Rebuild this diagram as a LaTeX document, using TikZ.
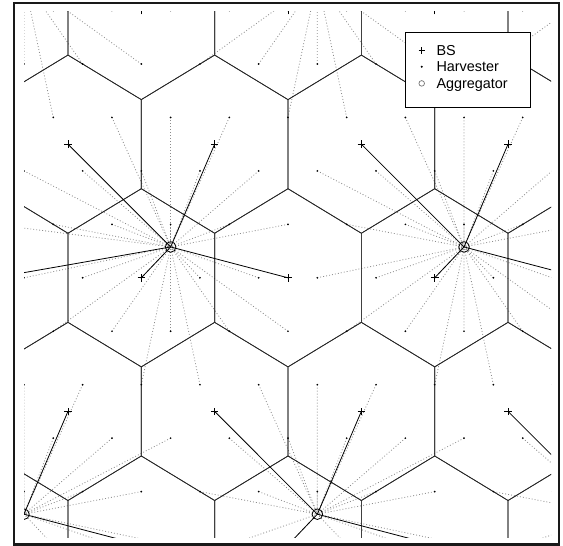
\documentclass[tikz,border=0pt]{standalone}
\usepackage{fontspec}
\setmainfont{Liberation Sans}
\def\agglist{2/2.2/0.2,3/-0.8/-1.5321,4/1.2/-1.5321,5/3.2/-1.5321,1/0.2/0.2,6/-0.8/1.9321,7/1.2/1.9321,8/3.2/1.9321}
\newcommand\nearestagg[2]{%
  \xdef\mybestd{1000}\xdef\mybesta{0}%
  \foreach \ak/\au/\av in \agglist {%
    \pgfmathsetmacro\mydd{((#1)-(\au))*((#1)-(\au))+((#2)-(\av))*((#2)-(\av))}%
    \pgfmathtruncatemacro\mybetter{(\mydd<\mybestd-0.0005)}%
    \ifnum\mybetter=1 \xdef\mybestd{\mydd}\xdef\mybesta{\ak}\fi
  }%
}
\begin{document}
\begin{tikzpicture}[x=1pt,y=-1pt,
  hexedge/.style={draw=black!85, line width=0.7pt, line join=round},
  bsline/.style={draw=black, line width=0.8pt},
  hline/.style={draw=black!45, line width=0.8pt, dash pattern=on 0.9pt off 2.1pt},
  bsmark/.style={draw=black, line width=0.8pt},
  aggmark/.style={draw=black, line width=0.8pt},
  framebox/.style={draw=black!90, line width=2.6pt},
  legendbox/.style={draw=black, fill=white, line width=0.7pt},
  legtext/.style={anchor=base west, inner sep=0pt, font=\fontsize{14.4}{16}\selectfont}]
\useasboundingbox (0,0) rectangle (563,546);
\begin{scope}
\clip (24,11) rectangle (551,537);
\begin{scope}[shift={(141.3,277.8)}, x={(146.7pt,0pt)}, y={(0pt,154.3pt)}]
  % aggregators
  \foreach \ak/\au/\av in \agglist { \coordinate (a\ak) at (\au,\av); }
  % harvester -> aggregator links
  \foreach \j in {-5,...,5}{
    \foreach \i in {-8,...,10}{
      \pgfmathsetmacro\hu{0.4*(\i+0.5*(\j))}
      \pgfmathsetmacro\hv{0.34641*(\j)}
      \pgfmathtruncatemacro\hok{and(\hu>-1.02,\hu<3.02)}
      \ifnum\hok=1
        \nearestagg{\hu}{\hv}
        \coordinate (h\i x\j) at (\hu,\hv);
        \draw[hline] (h\i x\j) -- (a\mybesta);
      \fi
    }
  }
  % BS cells (hexagonal tiling)
  \foreach \j in {-3,...,3}{
    \foreach \i in {-5,...,6}{
      \pgfmathsetmacro\cu{\i+0.5*(\j)}
      \pgfmathsetmacro\cv{0.86603*(\j)}
      \pgfmathtruncatemacro\cok{and(\cu>-1.7,\cu<3.7)}
      \ifnum\cok=1
        \draw[hexedge] ({\cu},{\cv+0.57735}) -- ({\cu+0.5},{\cv+0.288675}) -- ({\cu+0.5},{\cv-0.288675})
          -- ({\cu},{\cv-0.57735}) -- ({\cu-0.5},{\cv-0.288675}) -- ({\cu-0.5},{\cv+0.288675}) -- cycle;
      \fi
    }
  }
  % BS -> aggregator links and BS markers
  \foreach \j in {-2,...,2}{
    \foreach \i in {-4,...,5}{
      \pgfmathsetmacro\bu{\i+0.5*(\j)}
      \pgfmathsetmacro\bv{0.86603*(\j)}
      \pgfmathtruncatemacro\bok{and(\bu>-1.02,\bu<3.02)}
      \ifnum\bok=1
        \nearestagg{\bu}{\bv}
        \coordinate (b\i x\j) at (\bu,\bv);
        \draw[bsline] (b\i x\j) -- (a\mybesta);
      \fi
    }
  }
  \foreach \j in {-2,...,2}{
    \foreach \i in {-4,...,5}{
      \pgfmathsetmacro\bu{\i+0.5*(\j)}
      \pgfmathtruncatemacro\bok{and(\bu>-1.02,\bu<3.02)}
      \ifnum\bok=1
        \draw[bsmark] (b\i x\j) ++(-3.8pt,0pt) -- ++(7.6pt,0pt);
        \draw[bsmark] (b\i x\j) ++(0pt,-3.8pt) -- ++(0pt,7.6pt);
      \fi
    }
  }
  % harvester markers
  \foreach \j in {-5,...,5}{
    \foreach \i in {-8,...,10}{
      \pgfmathsetmacro\hu{0.4*(\i+0.5*(\j))}
      \pgfmathtruncatemacro\hok{and(\hu>-1.02,\hu<3.02)}
      \ifnum\hok=1
        \fill[black] (h\i x\j) circle[radius=0.95pt];
      \fi
    }
  }
  % aggregator markers
  \foreach \ak in {1,...,8}{ \draw[aggmark] (a\ak) circle[radius=5.3pt]; }
\end{scope}
\end{scope}
% frame
\draw[framebox] (14,3) rectangle (559,544.5);
% legend
\draw[legendbox] (405,32.3) rectangle (530.7,107.3);
\coordinate (lm1) at (421.7,50.3);
\coordinate (lm2) at (421.7,66.8);
\coordinate (lm3) at (421.7,83.4);
\draw[bsmark] (lm1) ++(-3.2,0) -- ++(6.4,0);
\draw[bsmark] (lm1) ++(0,-3.2) -- ++(0,6.4);
\fill[black] (lm2) circle[radius=1.1pt];
\draw[black!55, line width=0.7pt] (lm3) circle[radius=2.8pt];
\node[legtext] (lbs) at (436.3,55.2) {BS};
\node[legtext] (lharv) at (436.3,71.8) {Harvester};
\node[legtext] (lagg) at (436.3,88.4) {Aggregator};
\end{tikzpicture}
\end{document}
